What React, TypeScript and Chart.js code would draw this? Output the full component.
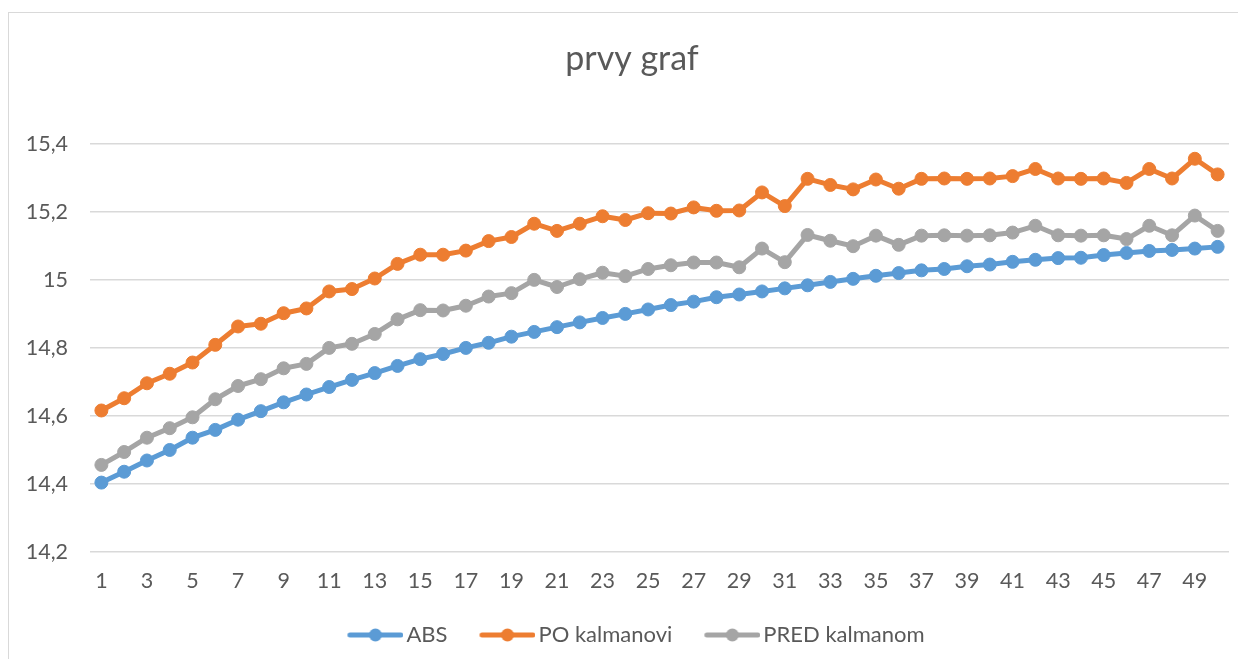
import React, { useEffect, useRef } from 'react';
import { Chart, registerables } from 'chart.js';

Chart.register(...registerables);

const categories = [
  '1', '2', '3', '4', '5', '6', '7', '8', '9', '10',
  '11', '12', '13', '14', '15', '16', '17', '18', '19', '20',
  '21', '22', '23', '24', '25', '26', '27', '28', '29', '30',
  '31', '32', '33', '34', '35', '36', '37', '38', '39', '40',
  '41', '42', '43', '44', '45', '46', '47', '48', '49', '50',
];

const absValues = [
  14.404, 14.436, 14.469, 14.5, 14.536, 14.559, 14.589, 14.614, 14.64, 14.663,
  14.685, 14.706, 14.726, 14.747, 14.767, 14.782, 14.8, 14.815, 14.833, 14.847,
  14.861, 14.875, 14.888, 14.9, 14.913, 14.926, 14.936, 14.949, 14.957, 14.966,
  14.975, 14.984, 14.994, 15.003, 15.012, 15.02, 15.028, 15.032, 15.04, 15.045,
  15.053, 15.059, 15.064, 15.065, 15.073, 15.079, 15.085, 15.088, 15.092, 15.097,
];

const poValues = [
  14.616, 14.652, 14.696, 14.724, 14.757, 14.809, 14.863, 14.871, 14.902, 14.916,
  14.966, 14.973, 15.004, 15.047, 15.074, 15.074, 15.086, 15.114, 15.126, 15.165,
  15.144, 15.165, 15.187, 15.176, 15.196, 15.195, 15.213, 15.203, 15.204, 15.257,
  15.217, 15.297, 15.279, 15.266, 15.295, 15.268, 15.297, 15.298, 15.297, 15.298,
  15.305, 15.326, 15.298, 15.297, 15.298, 15.285, 15.326, 15.298, 15.356, 15.31,
];

const predValues = [
  14.456, 14.494, 14.536, 14.564, 14.596, 14.649, 14.688, 14.708, 14.74, 14.753,
  14.8, 14.812, 14.841, 14.884, 14.911, 14.91, 14.924, 14.951, 14.961, 15.0,
  14.979, 15.002, 15.021, 15.011, 15.032, 15.043, 15.051, 15.051, 15.037, 15.092,
  15.052, 15.132, 15.115, 15.099, 15.13, 15.103, 15.13, 15.131, 15.13, 15.131,
  15.139, 15.159, 15.131, 15.13, 15.131, 15.12, 15.159, 15.131, 15.189, 15.144,
];

const seriesNames = ['ABS', 'PO kalmanovi', 'PRED kalmanom'];
const seriesColors = ['#5B9BD5', '#ED7D31', '#A5A5A5'];

const yTicks = { min: 14.2, max: 15.4, step: 0.2 };
const titleText = 'prvy graf';
const textColor = '#595959';
const gridColor = '#D9D9D9';
const fontFamily = 'Lato, "Open Sans", sans-serif';

function makeLegendIcon(color: string): HTMLCanvasElement {
  const c = document.createElement('canvas');
  c.width = 72;
  c.height = 16;
  const ctx = c.getContext('2d')!;
  ctx.strokeStyle = color;
  ctx.lineWidth = 5;
  ctx.lineCap = 'round';
  ctx.beginPath();
  ctx.moveTo(18.5, 8);
  ctx.lineTo(69.5, 8);
  ctx.stroke();
  ctx.fillStyle = color;
  ctx.beginPath();
  ctx.arc(44, 8, 6.5, 0, Math.PI * 2);
  ctx.fill();
  return c;
}

// lets the y tick labels use the space left of the axis box
const yLabelAreaPlugin = {
  id: 'yLabelArea',
  afterLayout(chart: any) {
    if (chart.scales.y) chart.scales.y.left = 0;
  },
};

export default function App() {
  const canvasRef = useRef<HTMLCanvasElement>(null);

  useEffect(() => {
    const icons = seriesColors.map(makeLegendIcon);
    const values = [absValues, poValues, predValues];
    const chart = new Chart(canvasRef.current!, {
      type: 'line',
      data: {
        labels: categories,
        datasets: values.map((v, i) => ({
          label: seriesNames[i],
          data: v,
          borderColor: seriesColors[i],
          backgroundColor: seriesColors[i],
          pointBackgroundColor: seriesColors[i],
          pointBorderColor: seriesColors[i],
          pointBorderWidth: 1,
          pointRadius: 6.5,
          borderWidth: 5,
          borderJoinStyle: 'round' as const,
          tension: 0,
          fill: false,
        })),
      },
      plugins: [yLabelAreaPlugin],
      options: {
        animation: false,
        responsive: true,
        maintainAspectRatio: false,
        layout: { padding: { left: 26, right: 26, top: 0, bottom: 3 } },
        plugins: {
          title: {
            display: true,
            text: titleText,
            color: textColor,
            font: { size: 34, family: fontFamily, weight: 'normal' },
            padding: { top: 26, bottom: 64 },
          },
          legend: {
            position: 'bottom',
            labels: {
              usePointStyle: true,
              pointStyleWidth: 56,
              padding: 24,
              color: textColor,
              font: { size: 22, family: fontFamily },
              generateLabels: (ch: any) => {
                const items = (Chart.defaults.plugins.legend.labels as any).generateLabels(ch);
                return items.map((it: any) => ({ ...it, pointStyle: icons[it.datasetIndex] }));
              },
            },
          },
          tooltip: { enabled: false },
        },
        scales: {
          x: {
            type: 'category',
            offset: true,
            grid: { display: false, drawTicks: false },
            border: { display: false },
            ticks: {
              autoSkip: false,
              maxRotation: 0,
              minRotation: 0,
              padding: 16,
              color: textColor,
              font: { size: 21.5, family: fontFamily },
              callback: (_v: any, i: number) => (i % 2 === 0 ? categories[i] : ''),
            },
            afterFit: (scale: any) => {
              scale.height = 48;
            },
          },
          y: {
            min: yTicks.min,
            max: yTicks.max,
            grid: { color: gridColor, lineWidth: 1.5, drawTicks: false },
            border: { display: false },
            ticks: {
              stepSize: yTicks.step,
              padding: 22,
              color: textColor,
              font: { size: 21.5, family: fontFamily },
              callback: (v: any) => String(Math.round(Number(v) * 10) / 10).replace('.', ','),
            },
            afterFit: (scale: any) => {
              scale.width = 55;
            },
          },
        },
      },
    } as any);
    return () => chart.destroy();
  }, []);

  return (
    <div style={{ paddingTop: 4, overflow: 'hidden' }}>
      <div
        style={{
          borderLeft: `1px solid ${gridColor}`,
          borderTop: `1px solid ${gridColor}`,
          width: 1246,
          height: 646,
          position: 'relative',
        }}
      >
        <canvas ref={canvasRef} />
      </div>
    </div>
  );
}
